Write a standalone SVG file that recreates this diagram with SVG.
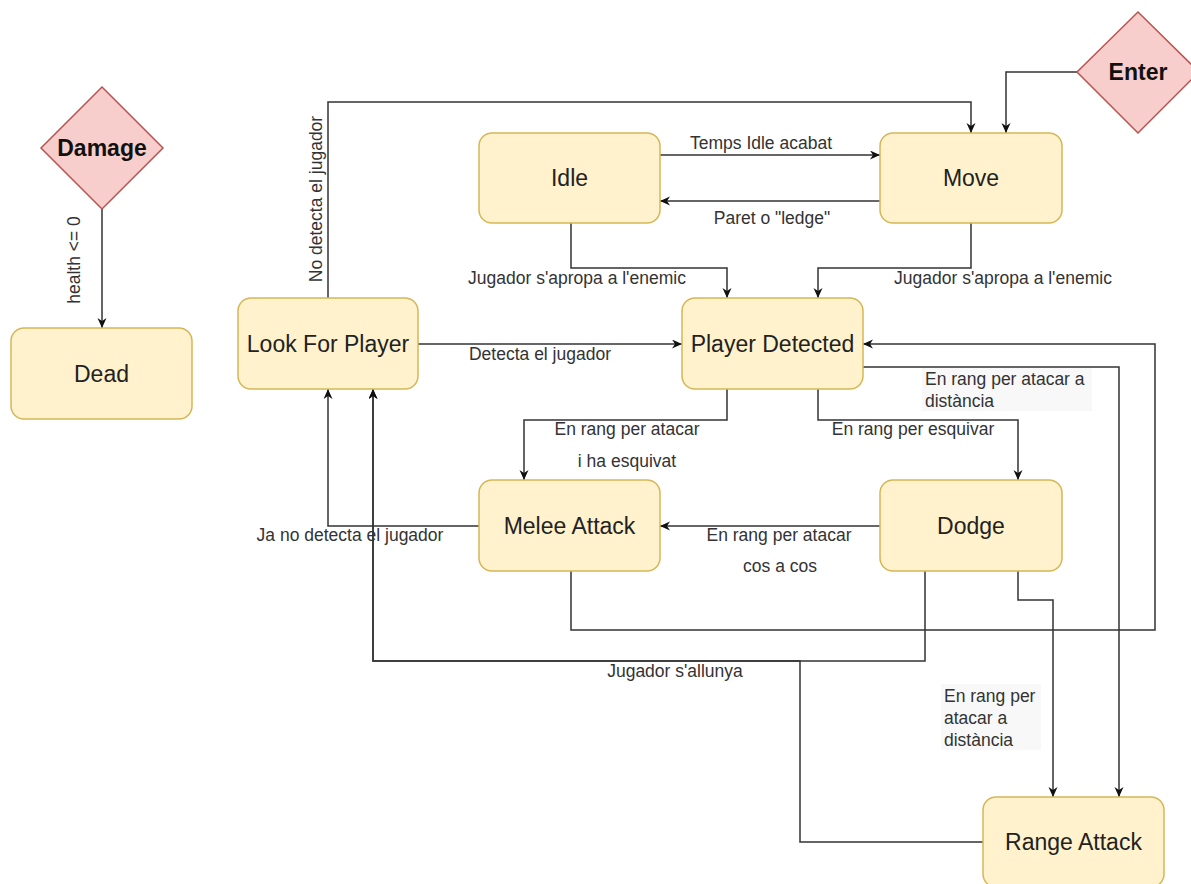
<svg xmlns="http://www.w3.org/2000/svg" width="1191" height="884" viewBox="0 0 1191 884">
<style>
.node{fill:#fff2cc;stroke:#d6b656;stroke-width:1.5}
.dia{fill:#f8cecc;stroke:#b85450;stroke-width:1.5}
.nt{font-family:"Liberation Sans",Arial,sans-serif;font-size:23px;fill:#222;text-anchor:middle;dominant-baseline:central}
.dt{font-family:"Liberation Sans",Arial,sans-serif;font-size:23px;font-weight:bold;fill:#111;text-anchor:middle;dominant-baseline:central}
.lb{font-family:"Liberation Sans",Arial,sans-serif;font-size:17.5px;fill:#333;text-anchor:middle;dominant-baseline:central}
.lbl{font-family:"Liberation Sans",Arial,sans-serif;font-size:17.5px;fill:#333;dominant-baseline:central}
.c{fill:none;stroke:#333;stroke-width:1.5;marker-end:url(#arr)}
</style>
<defs>
<marker id="arr" markerWidth="11" markerHeight="10" refX="10" refY="4.5" orient="auto" markerUnits="userSpaceOnUse">
<path d="M0 0 L10 4.5 L0 9 L3 4.5 z" fill="#111"/>
</marker>
</defs>
<rect width="1191" height="884" fill="#fff"/>
<g id="connectors">
<path class="c" d="M102 209 V328"/>
<path class="c" d="M328 298 V102 H971 V133"/>
<path class="c" d="M1077 72 H1006 V133"/>
<path class="c" d="M660 155 H880"/>
<path class="c" d="M880 201 H660"/>
<path class="c" d="M571 223 V268 H727 V298"/>
<path class="c" d="M971 223 V268 H818 V298"/>
<path class="c" d="M418 344 H682"/>
<path class="c" d="M571 571 V630 H1155 V344 H863"/>
<path class="c" d="M863 367 H1119 V797"/>
<path class="c" d="M727 389 V420 H524 V480"/>
<path class="c" d="M818 389 V420 H1018 V480"/>
<path class="c" d="M880 526 H660"/>
<path class="c" d="M479 526 H328 V389"/>
<path class="c" d="M925 571 V661 H373 V389"/>
<path class="c" d="M983 842 H800 V661 H373 V389"/>
<path class="c" d="M1018 571 V600 H1053 V797"/>
<text class="lb" transform="translate(74 260) rotate(-90)">health &lt;= 0</text>
<text class="lb" transform="translate(316 199) rotate(-90)">No detecta el jugador</text>
<text class="lb" x="761" y="143">Temps Idle acabat</text>
<text class="lb" x="772" y="218">Paret o "ledge"</text>
<text class="lb" x="577" y="278">Jugador s'apropa a l'enemic</text>
<text class="lb" x="1003" y="278">Jugador s'apropa a l'enemic</text>
<text class="lb" x="540" y="354">Detecta el jugador</text>
<rect x="922" y="368" width="170" height="43" fill="#f8f8f8"/>
<text class="lbl" x="925" y="379">En rang per atacar a</text>
<text class="lbl" x="925" y="401">distància</text>
<text class="lb" x="627" y="429">En rang per atacar</text>
<text class="lb" x="627" y="461">i ha esquivat</text>
<text class="lb" x="913" y="429">En rang per esquivar</text>
<text class="lb" x="779" y="535">En rang per atacar</text>
<text class="lb" x="780" y="566">cos a cos</text>
<text class="lb" x="350" y="535">Ja no detecta el jugador</text>
<text class="lb" x="675" y="671">Jugador s'allunya</text>
<rect x="941" y="684" width="100" height="66" fill="#f8f8f8"/>
<text class="lbl" x="944" y="696">En rang per</text>
<text class="lbl" x="944" y="718">atacar a</text>
<text class="lbl" x="944" y="740">distància</text>
</g>
<g id="damage"><polygon class="dia" points="102,87 163,148 102,209 41,148"/><text class="dt" x="102" y="148">Damage</text></g>
<g id="enter"><polygon class="dia" points="1138,12 1199,72 1138,133 1077,72"/><text class="dt" x="1138" y="72">Enter</text></g>
<g id="dead"><rect class="node" x="11" y="328" width="181" height="91" rx="13"/><text class="nt" x="101.5" y="373.5">Dead</text></g>
<g id="look-for-player"><rect class="node" x="238" y="298" width="180" height="91" rx="13"/><text class="nt" x="328" y="343.5">Look For Player</text></g>
<g id="idle"><rect class="node" x="479" y="133" width="181" height="90" rx="13"/><text class="nt" x="569.5" y="178">Idle</text></g>
<g id="move"><rect class="node" x="880" y="133" width="182" height="90" rx="13"/><text class="nt" x="971" y="178">Move</text></g>
<g id="player-detected"><rect class="node" x="682" y="298" width="181" height="91" rx="13"/><text class="nt" x="772.5" y="343.5">Player Detected</text></g>
<g id="melee-attack"><rect class="node" x="479" y="480" width="181" height="91" rx="13"/><text class="nt" x="569.5" y="525.5">Melee Attack</text></g>
<g id="dodge"><rect class="node" x="880" y="480" width="182" height="91" rx="13"/><text class="nt" x="971" y="525.5">Dodge</text></g>
<g id="range-attack"><rect class="node" x="983" y="797" width="181" height="90" rx="13"/><text class="nt" x="1073.5" y="842">Range Attack</text></g>
</svg>
